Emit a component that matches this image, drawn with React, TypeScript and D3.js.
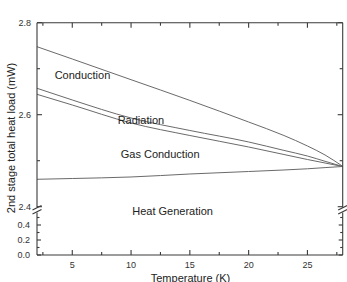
import { useEffect, useRef } from "react";
import * as d3 from "d3";

const temps = [2, 5, 10, 15, 20, 23, 25, 26.5, 28];
const conduction = [2.7478, 2.7211, 2.6761, 2.6311, 2.5841, 2.5548, 2.532, 2.5124, 2.4878];
const radiation = [2.6574, 2.632, 2.5928, 2.5657, 2.5407, 2.5224, 2.5102, 2.4987, 2.4874];
const gasConduction = [2.6443, 2.6211, 2.582, 2.5548, 2.5298, 2.5135, 2.5026, 2.495, 2.4874];
const heatGeneration = [2.4596, 2.4613, 2.4646, 2.4711, 2.4765, 2.4798, 2.4824, 2.485, 2.4874];

const xTicks = [5, 10, 15, 20, 25];
const upperTicks = [2.4, 2.6, 2.8];
const lowerTicks = [0.0, 0.2, 0.4];

const labels = [
  { text: "Conduction", t: 3.5, v: 2.6776 },
  { text: "Radiation", t: 8.86, v: 2.58 },
  { text: "Gas Conduction", t: 9.12, v: 2.506 },
  { text: "Heat Generation", t: 10.1, v: 2.382 },
];

const W = 347, H = 282;

const App = () => {
  const svgRef = useRef<SVGSVGElement>(null);

  useEffect(() => {
    if (!svgRef.current) return;
    const svg = d3.select(svgRef.current);
    svg.selectAll("*").remove();

    const left = 37, right = 342.7, top = 22.7, bottom = 255;
    const x = d3.scaleLinear().domain([2, 28]).range([left, right]);
    const yUp = d3.scaleLinear().domain([2.4, 2.8]).range([206.7, top]);
    const yLow = d3.scaleLinear().domain([0, 0.5]).range([bottom, 217.5]);
    const axisColor = "#3a3a3a";
    const font = "'Liberation Sans', Arial, sans-serif";

    // series lines
    const line = d3.line<number>()
      .x((_, i) => x(temps[i]))
      .y((d) => yUp(d))
      .curve(d3.curveMonotoneX);

    [conduction, radiation, gasConduction, heatGeneration].forEach((s) => {
      svg.append("path")
        .datum(s)
        .attr("d", line)
        .attr("fill", "none")
        .attr("stroke", "#6a6a6a")
        .attr("stroke-width", 1);
    });

    // frame
    const g = svg.append("g").attr("stroke", axisColor).attr("stroke-width", 1.1).attr("fill", "none");
    g.append("line").attr("x1", left).attr("x2", right).attr("y1", top).attr("y2", top);
    g.append("line").attr("x1", left).attr("x2", right).attr("y1", bottom).attr("y2", bottom);
    [left, right].forEach((xx) => {
      g.append("line").attr("x1", xx).attr("x2", xx).attr("y1", top).attr("y2", 207.5);
      g.append("line").attr("x1", xx).attr("x2", xx).attr("y1", 212.5).attr("y2", bottom);
      [207.8, 211.8].forEach((yy) => {
        g.append("line")
          .attr("x1", xx - 4.5).attr("y1", yy + 2.2)
          .attr("x2", xx + 4.5).attr("y2", yy - 2.2);
      });
    });

    // x ticks (bottom & top, inside)
    d3.range(2.5, 28, 2.5).forEach((t) => {
      const major = t % 5 === 0;
      const len = major ? 5 : 3;
      g.append("line").attr("x1", x(t)).attr("x2", x(t)).attr("y1", bottom).attr("y2", bottom - len);
      g.append("line").attr("x1", x(t)).attr("x2", x(t)).attr("y1", top).attr("y2", top + len);
    });

    // y ticks
    d3.range(2.4, 2.81, 0.1).forEach((v) => {
      const major = Math.round(v * 10) % 2 === 0;
      const len = major ? 5 : 3;
      [[left, 1], [right, -1]].forEach(([xx, dir]) => {
        g.append("line").attr("x1", xx).attr("x2", xx + dir * len).attr("y1", yUp(v)).attr("y2", yUp(v));
      });
    });
    d3.range(0, 0.51, 0.1).forEach((v) => {
      const major = Math.round(v * 10) % 2 === 0;
      const len = major ? 4 : 2.5;
      [[left, 1], [right, -1]].forEach(([xx, dir]) => {
        g.append("line").attr("x1", xx).attr("x2", xx + dir * len).attr("y1", yLow(v)).attr("y2", yLow(v));
      });
    });

    // tick labels
    const tl = svg.append("g").attr("font-family", font).attr("font-size", 9).attr("fill", "#333");
    xTicks.forEach((t) => {
      tl.append("text").attr("x", x(t)).attr("y", 268).attr("text-anchor", "middle").text(t);
    });
    upperTicks.forEach((v) => {
      tl.append("text").attr("x", 31).attr("y", yUp(v) + 3.2).attr("text-anchor", "end").text(v.toFixed(1));
    });
    lowerTicks.forEach((v) => {
      tl.append("text").attr("x", 30).attr("y", yLow(v) + 3.2).attr("text-anchor", "end").text(v.toFixed(1));
    });

    // titles
    svg.append("text")
      .attr("x", 190.5).attr("y", 281.5)
      .attr("text-anchor", "middle")
      .attr("font-family", font).attr("font-size", 11).attr("fill", "#222")
      .text("Temperature (K)");
    svg.append("text")
      .attr("transform", `translate(14.5,138) rotate(-90)`)
      .attr("text-anchor", "middle")
      .attr("font-family", font).attr("font-size", 11).attr("fill", "#222")
      .text("2nd stage total heat load (mW)");

    // region labels
    labels.forEach((l) => {
      svg.append("text")
        .attr("x", x(l.t)).attr("y", yUp(l.v))
        .attr("font-family", font).attr("font-size", 11).attr("fill", "#222")
        .text(l.text);
    });
  }, []);

  return <svg ref={svgRef} width={W} height={H} style={{ position: "absolute", left: 0, top: 0, background: "#fff" }} />;
};

export default App;
